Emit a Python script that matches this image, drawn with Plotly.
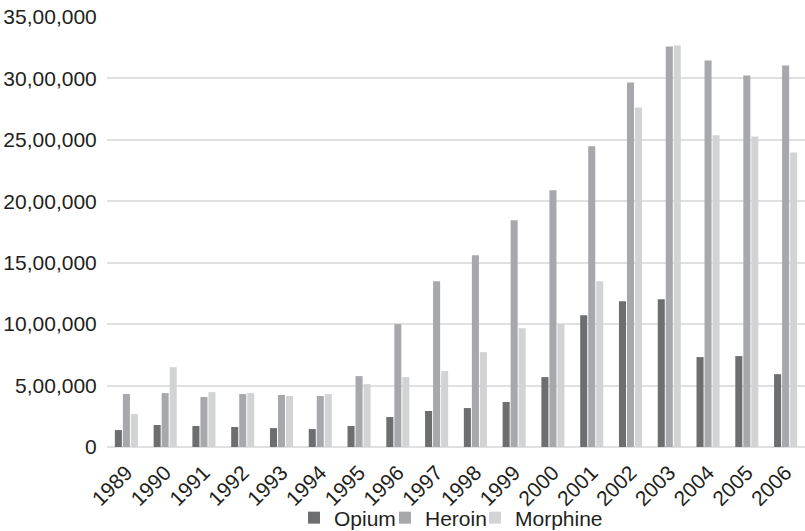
import plotly.graph_objects as go

years = [str(y) for y in range(1989, 2007)]
opium = [138000, 179000, 171000, 163000, 154000, 146000, 171000, 244000, 293000,
         317000, 366000, 569000, 1073000, 1187000, 1203000, 732000, 740000, 593000]
heroin = [431000, 439000, 407000, 431000, 423000, 415000, 577000, 1000000, 1350000,
          1561000, 1846000, 2089000, 2447000, 2967000, 3260000, 3146000, 3024000, 3106000]
morphine = [268000, 650000, 447000, 439000, 415000, 431000, 512000, 569000, 618000,
            772000, 967000, 1000000, 1350000, 2764000, 3268000, 2537000, 2528000, 2398000]

y_tick_vals = [0, 500000, 1000000, 1500000, 2000000, 2500000, 3000000, 3500000]
y_tick_text = ["0", "5,00,000", "10,00,000", "15,00,000", "20,00,000",
               "25,00,000", "30,00,000", "35,00,000"]

series = [("Opium", opium, "#6d6e70", "legend", 294 / 805),
          ("Heroin", heroin, "#a7a8ab", "legend2", 385 / 805),
          ("Morphine", morphine, "#d2d3d5", "legend3", 475 / 805)]

W, H = 805, 531
font = "Liberation Sans, Arial, sans-serif"
txt = "#231f20"

fig = go.Figure()
legends = {}
for name, vals, col, lg, lx in series:
    fig.add_trace(go.Bar(x=years, y=vals, name=name, marker_color=col,
                         marker_line_width=0, legend=lg))
    legends[lg] = dict(orientation="h", xref="container", yref="container",
                       x=lx, xanchor="left", y=1 - 518 / 531, yanchor="middle",
                       font=dict(size=21, color=txt, family=font), itemwidth=30,
                       bgcolor="rgba(0,0,0,0)")

fig.update_layout(
    width=W, height=H,
    margin=dict(l=106.5, r=0, t=16.7, b=84, autoexpand=False),
    paper_bgcolor="white", plot_bgcolor="white",
    barmode="group", bargap=0.38, bargroupgap=0.12,
    font=dict(family=font, size=20, color=txt),
    showlegend=True,
    **legends,
)
fig.update_xaxes(type="category", tickangle=-45, showgrid=False, showline=False,
                 automargin=False, ticks="outside", ticklen=4,
                 tickcolor="rgba(0,0,0,0)",
                 tickfont=dict(size=21, color=txt))
fig.update_yaxes(range=[0, 3500000], tickvals=y_tick_vals, ticktext=y_tick_text,
                 automargin=False,
                 showgrid=True, gridcolor="#e0e0e0", gridwidth=1.5,
                 zeroline=True, zerolinecolor="#e0e0e0", zerolinewidth=1.5,
                 showline=False, ticks="outside", ticklen=5,
                 tickcolor="rgba(0,0,0,0)",
                 tickfont=dict(size=21, color=txt))

fig.write_html("out.html",
               config={"displayModeBar": False},
               post_script="document.body.style.margin='0px';"
                           "document.body.style.overflow='hidden';")
